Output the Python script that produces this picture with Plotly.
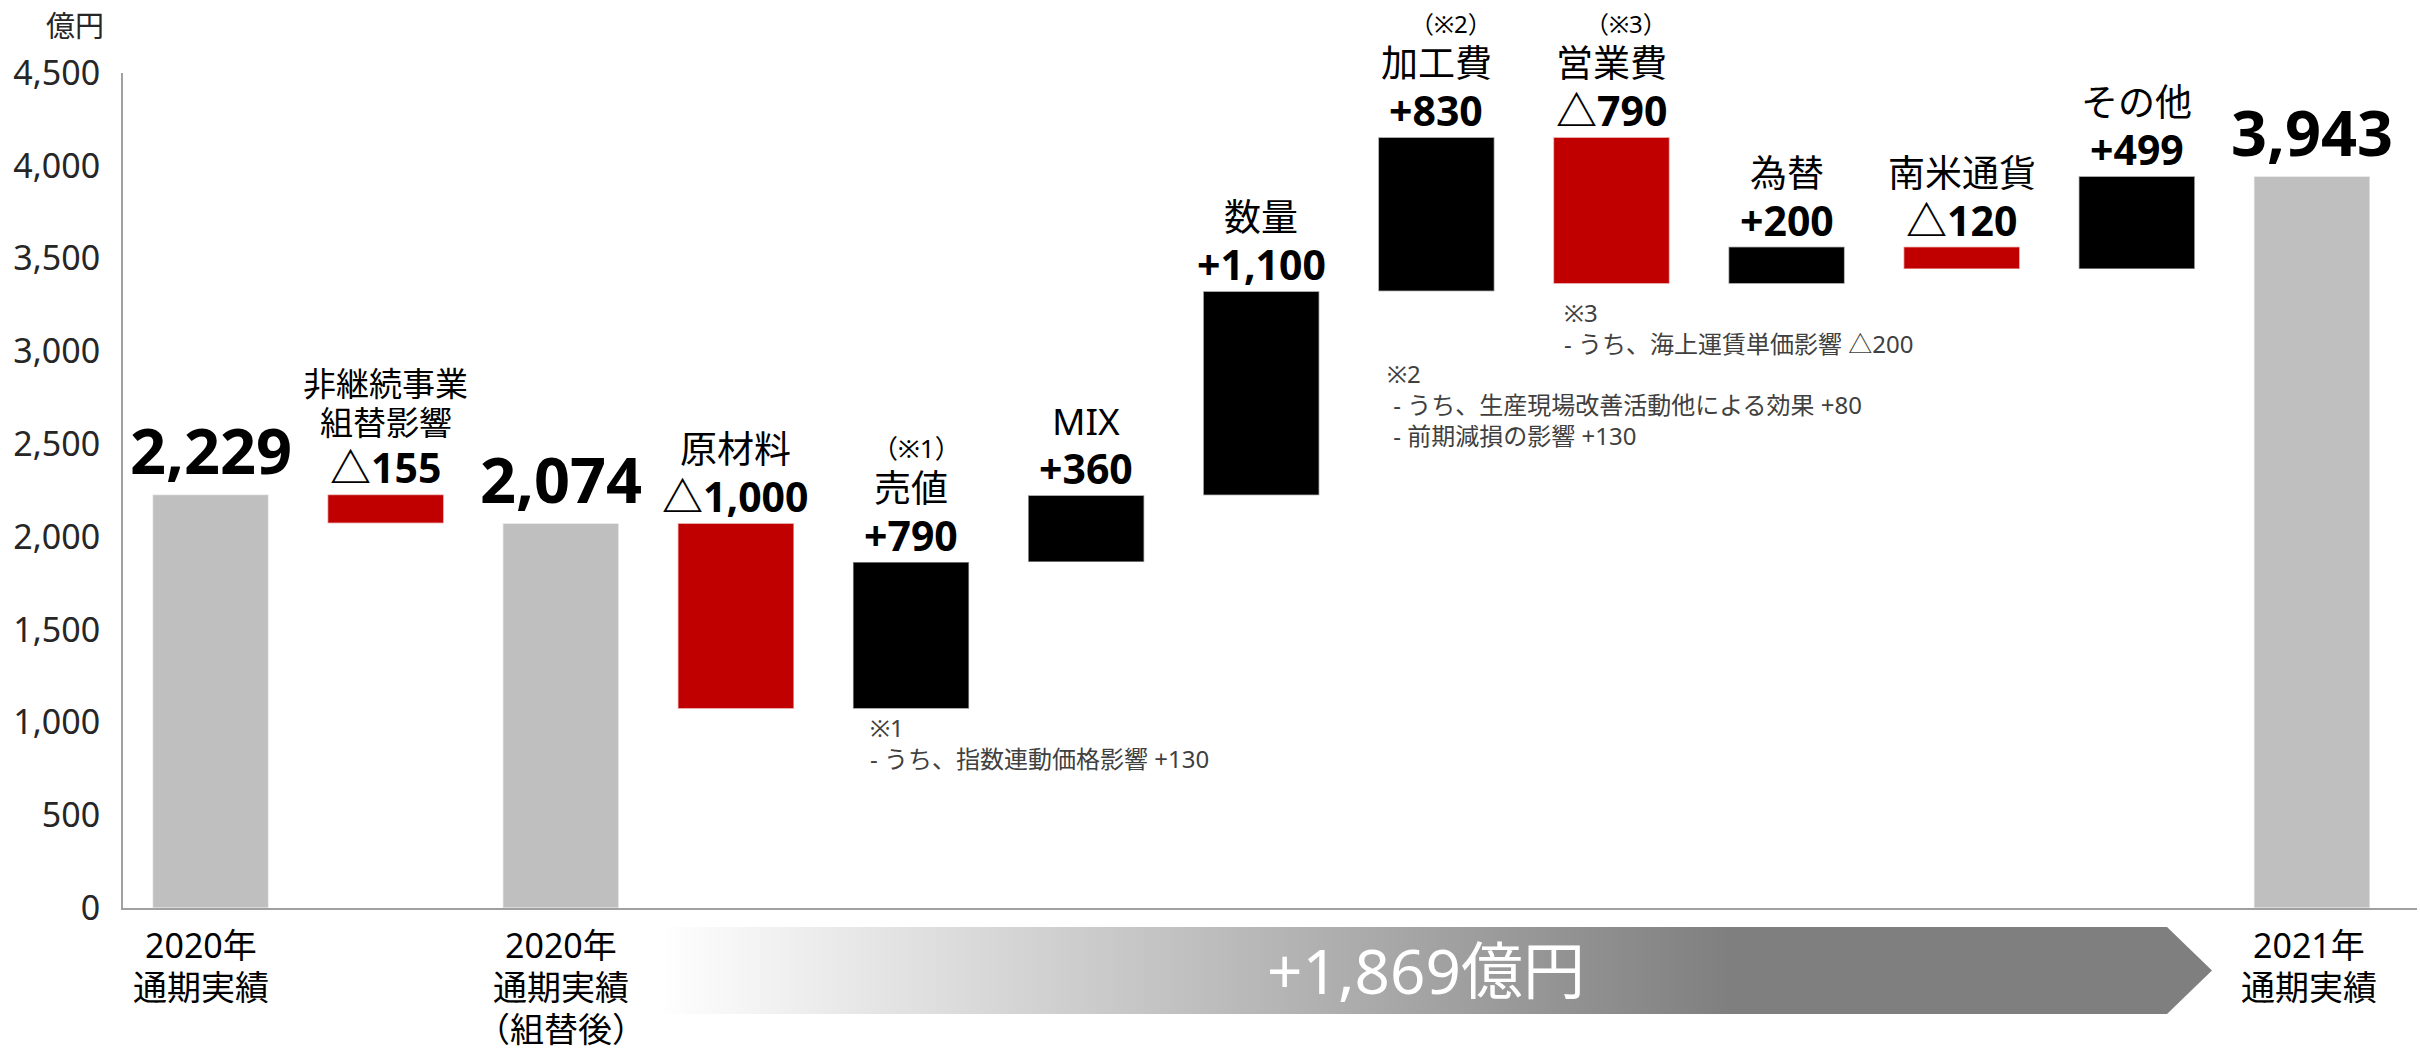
import base64
import plotly.graph_objects as go

# ---------------- data ----------------
bar_names = ["", "非継続事業\n組替影響", "", "原材料", "売値", "MIX", "数量",
             "加工費", "営業費", "為替", "南米通貨", "その他", ""]
measures = ["absolute", "relative", "total", "relative", "relative", "relative",
            "relative", "relative", "relative", "relative", "relative", "relative", "total"]
values = [2229, -155, None, -1000, 790, 360, 1100, 830, -790, 200, -120, 499, None]
note_marks = {4: "（※1）", 7: "（※2）", 8: "（※3）"}
bottom_ticks = [0, 2, 12]
bottom_text = [["2020年", "通期実績"], ["2020年", "通期実績", "（組替後）"], ["2021年", "通期実績"]]
bottom_xshift = [-10, 0, -3]
y_ticks = [0, 500, 1000, 1500, 2000, 2500, 3000, 3500, 4000, 4500]
footnotes = [
    ("※1<br>- うち、指数連動価格影響 +130", 868, 743),
    ("※2<br> - うち、生産現場改善活動他による効果 +80<br> - 前期減損の影響 +130", 1385, 405),
    ("※3<br>- うち、海上運賃単価影響 △200", 1562, 328),
]
unit = "億円"

# ---------------- geometry ----------------
W, H = 2420, 1053
L, R, T, B = 123, 3, 73, 145
PW, PH = W - L - R, H - T - B


def px(xp):
    return (xp - L) / PW


def py(yp):
    return (H - B - yp) / PH


FONT = "Noto Sans, Noto Sans CJK JP, sans-serif"
RED, BLACK, GRAY = "#C00000", "#000000", "#BFBFBF"
edge = dict(color="rgba(255,255,255,0.55)", width=1.5)

n = len(values)
xs = list(range(n))

fig = go.Figure()
fig.add_trace(go.Waterfall(
    x=xs, y=[v if v is not None else 0 for v in values], measure=measures,
    increasing=dict(marker=dict(color=BLACK, line=edge)),
    decreasing=dict(marker=dict(color=RED, line=edge)),
    totals=dict(marker=dict(color=GRAY, line=edge)),
    connector=dict(visible=False),
    textposition="none", hoverinfo="skip", showlegend=False,
))

# cumulative levels for label placement
ann = []
level = 0
levels = []
for i, (m, v) in enumerate(zip(measures, values)):
    if m == "absolute":
        level = v
        top = level
        txt = f"{level:,}"
        total = True
    elif m == "total":
        top = level
        txt = f"{level:,}"
        total = True
    else:
        start = level
        level = level + v
        top = max(start, level)
        txt = (f"+{v:,}" if v >= 0 else f"△{-v:,}")
        total = False
    levels.append(level)
    if total:
        ann.append(dict(x=i, y=top, xref="x", yref="y", text=f"<b>{txt}</b>",
                        showarrow=False, yanchor="middle", yshift=45,
                        font=dict(family=FONT, size=63, color="#000000")))
    else:
        ann.append(dict(x=i, y=top, xref="x", yref="y", text=f"<b>{txt}</b>",
                        showarrow=False, yanchor="middle", yshift=27, height=46,
                        font=dict(family=FONT, size=41, color="#000000")))
        lines = bar_names[i].split("\n")
        small = len(lines) > 1
        fs = 33 if small else 37
        base = 72 if small else 75
        step = 39
        for k, line in enumerate(reversed(lines)):
            ann.append(dict(x=i, y=top, xref="x", yref="y", text=line,
                            showarrow=False, yanchor="middle", yshift=base + step * k,
                            height=fs + 3,
                            font=dict(family=FONT, size=fs, color="#000000")))
        if i in note_marks:
            nch = len(bar_names[i])
            xsh = max(nch * 18.5, 50)
            nfs = 26 if nch < 3 else 24
            ann.append(dict(x=i, y=top, xref="x", yref="y", text=note_marks[i],
                            showarrow=False, yanchor="middle", xanchor="right",
                            xshift=xsh + 2, yshift=114, height=nfs + 2,
                            font=dict(family=FONT, size=nfs, color="#000000")))

# category labels under the axis
for xi, lines, xsh in zip(bottom_ticks, bottom_text, bottom_xshift):
    for k, line in enumerate(lines):
        ann.append(dict(x=xi, y=py(945 + 42 * k), xref="x", yref="paper", text=line,
                        showarrow=False, xanchor="center", yanchor="middle", xshift=xsh,
                        font=dict(family=FONT, size=34, color="#000000")))

# footnotes
for txt, xl, yc in footnotes:
    ann.append(dict(x=px(xl), y=py(yc), xref="paper", yref="paper", text=txt,
                    showarrow=False, xanchor="left", yanchor="middle", align="left",
                    font=dict(family=FONT, size=24, color="#404040")))

# unit label
ann.append(dict(x=px(106), y=py(25), xref="paper", yref="paper", text=unit,
                showarrow=False, xanchor="right", yanchor="middle",
                font=dict(family=FONT, size=29, color="#262626")))

# arrow with gradient (decoration)
ax0, ax1, head, at, ab = 660, 2212, 45, 927, 1014
aw, ah = ax1 - ax0, ab - at
svg = f"""<svg xmlns='http://www.w3.org/2000/svg' width='{aw}' height='{ah}' viewBox='0 0 {aw} {ah}' preserveAspectRatio='none'>
<defs><linearGradient id='g' x1='0' y1='0' x2='{aw}' y2='0' gradientUnits='userSpaceOnUse'>
<stop offset='0' stop-color='#FFFFFF'/><stop offset='0.02' stop-color='#FBFBFB'/>
<stop offset='0.69' stop-color='#7F7F7F'/><stop offset='1' stop-color='#7F7F7F'/></linearGradient></defs>
<polygon points='0,0 {aw-head},0 {aw},{ah/2} {aw-head},{ah} 0,{ah}' fill='url(#g)'/></svg>"""
src = "data:image/svg+xml;base64," + base64.b64encode(svg.encode()).decode()
images = [dict(source=src, xref="paper", yref="paper", x=px(ax0), y=py(at),
               sizex=aw / PW, sizey=ah / PH, xanchor="left", yanchor="top",
               sizing="stretch", layer="above")]

growth = levels[-1] - levels[2]
ann.append(dict(x=px(1426), y=py(970), xref="paper", yref="paper",
                text=f"+{growth:,}億円", showarrow=False,
                xanchor="center", yanchor="middle",
                font=dict(family=FONT, size=62, color="#FFFFFF")))

fig.update_layout(
    width=W, height=H, autosize=False,
    margin=dict(l=L, r=R, t=T, b=B, pad=0, autoexpand=False),
    paper_bgcolor="white", plot_bgcolor="white",
    waterfallgap=0.337,
    showlegend=False, hovermode=False,
    annotations=ann, images=images,
    font=dict(family=FONT, color="#262626"),
    xaxis=dict(range=[-0.5, 12.6], tickvals=bottom_ticks, showticklabels=False,
               showline=True, linecolor="#A0A0A0", linewidth=2, ticks="",
               showgrid=False, zeroline=False, automargin=False),
    yaxis=dict(range=[0, 4500], tickvals=y_ticks, tickformat=",",
               showline=True, linecolor="#A0A0A0", linewidth=2, ticks="",
               showgrid=False, zeroline=False, ticklabelstandoff=14, automargin=False,
               tickfont=dict(family=FONT, size=34, color="#262626")),
)

fig.write_html("out.html")
